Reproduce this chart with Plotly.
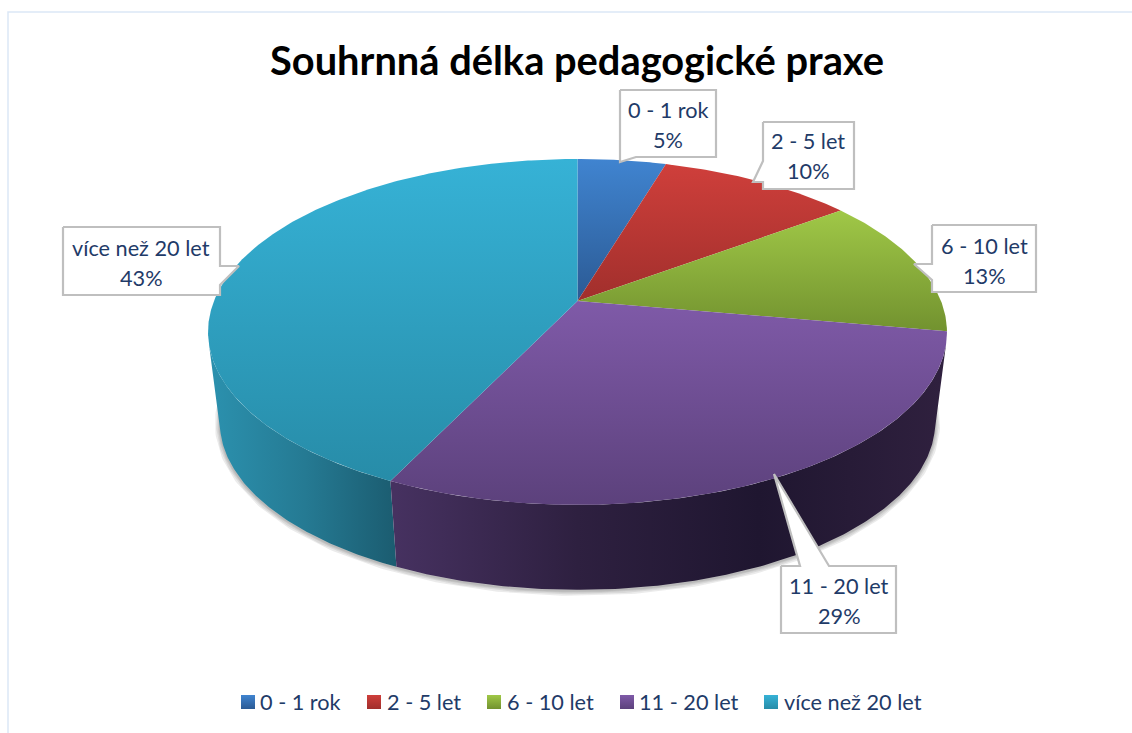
import math
import numpy as np
import plotly.graph_objects as go

# ---- data ----
categories = ["0 - 1 rok", "2 - 5 let", "6 - 10 let", "11 - 20 let", "více než 20 let"]
values = [4.6, 10.2, 13.0, 29.3, 42.9]
title_text = "Souhrnná délka pedagogické praxe"

# ---- styling ----
top_grad = [("#4084d0", "#2b5a94"), ("#cf3f3b", "#a12f2c"), ("#a0c847", "#72922f"),
            ("#7f5aa8", "#5c417c"), ("#36b2d6", "#278ca8")]
TEXT = "#1f3b68"
FONT = "Lato, Carlito, Calibri, sans-serif"
W, H = 1132, 733
CX, Y0, A, B, K = 577.5, 301.0, 363.5, 167.4, 0.179   # perspective of the pie top
SCALE_BOTTOM, Y0_BOTTOM = 0.968, 392.5

# callout outlines
callouts = [
    [(620, 90), (716, 90), (716, 157), (636, 157), (620, 162)],
    [(763, 122), (854, 122), (854, 189), (763, 189), (763, 182), (753, 182), (763, 161)],
    [(932, 225), (1036, 225), (1036, 292), (932, 292), (932, 280), (914, 264), (932, 264)],
    [(781, 566), (800, 566), (774, 474), (829, 566), (896, 566), (896, 633), (781, 633)],
    [(63, 227), (220, 227), (220, 266), (239, 266), (220, 285), (220, 295), (63, 295)],
]
label_pos = [(668, 110), (808, 141), (984, 246), (839, 586), (141, 248)]
legend_sq_x = [241, 367, 487, 620, 764]
legend_tx_x = [258, 385, 505, 637, 782]


def proj(theta, y0=Y0, s=1.0):
    u, v = np.sin(theta), np.cos(theta)
    d = 1 + K * v
    return CX + s * A * u / d, y0 - s * B * v / d


def arc(t0, t1, y0=Y0, s=1.0):
    n = max(int(abs(t1 - t0) / 0.01), 2)
    t = np.linspace(t0, t1, n)
    return proj(t, y0, s)


fig = go.Figure()


def poly(x, y, grad=None, orient="vertical", start=None, stop=None, fill=None, line=None, lw=0):
    kw = {}
    if grad is not None:
        n = len(grad) - 1
        kw["fillgradient"] = dict(type=orient, start=start, stop=stop,
                                  colorscale=[[i / n, c] for i, c in enumerate(grad)])
    elif fill is not None:
        kw["fillcolor"] = fill
    fig.add_trace(go.Scatter(x=list(x), y=list(y), mode="lines", fill="toself",
                             line=dict(width=lw, color=line or "rgba(0,0,0,0)"),
                             hoverinfo="skip", showlegend=False, **kw))


# cumulative angles
total = sum(values)
edges = [0.0]
for v in values:
    edges.append(edges[-1] + v / total * 2 * math.pi)

# frame of the card
fig.add_shape(type="rect", x0=8, y0=12, x1=W + 20, y1=H + 20, line=dict(color="#dbe7f6", width=1.5),
              fillcolor="white", layer="below")

# soft shadow beneath the base
bx, by = arc(math.radians(95), math.radians(268), Y0_BOTTOM, SCALE_BOTTOM)
for w, off in [(10, 1), (7, 1), (4, 1), (2, 1)]:
    fig.add_trace(go.Scatter(x=list(bx), y=list(by + off), mode="lines",
                             line=dict(width=w, color="rgba(60,60,60,0.10)"),
                             hoverinfo="skip", showlegend=False))

# side walls (only the two front slices are visible; clipped at the silhouette tangents)
side_styles = {
    3: (["#463160", "#2e2040", "#1f1630", "#2f203e"], 396, 940),
    4: (["#2b90ad", "#257a93", "#1b5c70"], 214, 396),
}
side_ranges = {3: (max(edges[3], math.radians(104)), edges[4]), 4: (edges[4], math.radians(256))}
for i in (4, 3):
    t0, t1 = side_ranges[i]
    tx, ty = arc(t0, t1)
    bx, by = arc(t1, t0, Y0_BOTTOM, SCALE_BOTTOM)
    g, s0, s1 = side_styles[i]
    poly(np.r_[tx, bx], np.r_[ty, by], grad=g, orient="horizontal", start=s0, stop=s1)

# top faces
for i in range(len(values)):
    ax, ay = arc(edges[i], edges[i + 1])
    xs = np.r_[CX, ax, CX]
    ys = np.r_[Y0, ay, Y0]
    poly(xs, ys, grad=list(top_grad[i]), orient="vertical", start=float(ys.min()), stop=float(ys.max()))

# callouts
for i, pts in enumerate(callouts):
    px = [p[0] for p in pts] + [pts[0][0]]
    py = [p[1] for p in pts] + [pts[0][1]]
    poly(px, py, fill="white", line="#bfbfbf", lw=2.2)

annotations = []
for i, cat in enumerate(categories):
    lx, ly = label_pos[i]
    annotations.append(dict(x=lx, y=ly, text=cat, showarrow=False, xanchor="center", yanchor="middle",
                            font=dict(family=FONT, size=21.7, color=TEXT)))
    annotations.append(dict(x=lx, y=ly + 30, text=f"{round(values[i])}%", showarrow=False,
                            xanchor="center", yanchor="middle",
                            font=dict(family=FONT, size=21.7, color=TEXT)))
    # legend
    sx = legend_sq_x[i]
    poly([sx, sx + 14, sx + 14, sx, sx], [695, 695, 709, 709, 695], grad=list(top_grad[i]),
         orient="vertical", start=695, stop=709)
    annotations.append(dict(x=legend_tx_x[i], y=702, text=cat, showarrow=False, xanchor="left",
                            yanchor="middle", font=dict(family=FONT, size=21.7, color=TEXT)))

fig.update_layout(
    width=W, height=H, margin=dict(l=0, r=0, t=0, b=0), paper_bgcolor="white", plot_bgcolor="white",
    xaxis=dict(range=[0, W], visible=False, fixedrange=True),
    yaxis=dict(range=[H, 0], visible=False, fixedrange=True),
    title=dict(text=f"<b>{title_text}</b>", x=577 / W, y=1 - 61 / H, xanchor="center", yanchor="middle",
               font=dict(family=FONT, size=39.8, color="black")),
    annotations=annotations, showlegend=False,
)
fig.write_html("out.html", config={"displayModeBar": False},
               post_script="document.body.style.margin='0';document.documentElement.style.overflow='hidden';")
